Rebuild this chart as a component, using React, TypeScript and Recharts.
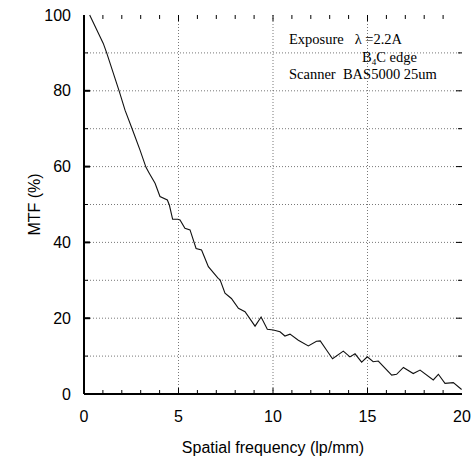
import { LineChart, Line, XAxis, YAxis, CartesianGrid, ReferenceLine, Label } from "recharts";

const freq = [
  0.3, 1.02, 1.2, 1.87, 2.17, 2.56, 2.96, 3.28, 3.46, 3.76, 4.02, 4.41, 4.52, 4.69, 4.96,
  5.08, 5.34, 5.61, 5.93, 6.22, 6.58, 7.1, 7.2, 7.46, 7.8, 8.17, 8.52, 9.05, 9.37, 9.7,
  10.02, 10.37, 10.63, 10.9, 11.34, 11.87, 12.3, 12.5, 12.83, 13.15, 13.72, 14.07, 14.34,
  14.69, 14.99, 15.3, 15.57, 16.28, 16.54, 16.9, 17.42, 17.78, 18.48, 18.75, 19.1, 19.54, 19.98,
];
const mtf = [
  100, 92.5, 90, 79.8, 74.9, 69.8, 64.4, 59.8, 58.2, 55.6, 52.1, 51.2, 49.8, 46.1, 46.1,
  45.9, 43.7, 43.3, 38.4, 38, 33.6, 30.5, 30.1, 26.6, 25.2, 22.6, 21.7, 17.9, 20.3, 17.1,
  16.9, 16.4, 15.3, 15.8, 14.2, 12.7, 13.9, 14, 11.6, 9.3, 11.3, 9.8, 10.6,
  8.4, 9.8, 8.5, 8.7, 5.0, 5.2, 7.0, 5.4, 6.3, 3.7, 5.2, 2.8, 3.0, 1.2,
];

const xLabels = [0, 5, 10, 15, 20];
const yLabels = [0, 20, 40, 60, 80, 100];
const xTicks = [1, 2, 3, 4, 5, 6, 7, 8, 9, 10, 11, 12, 13, 14, 15, 16, 17, 18, 19];
const yTicks = [10, 20, 30, 40, 50, 60, 70, 80, 90];
const xGrid = [5, 10, 15];
const yGrid = [10, 20, 30, 40, 50, 60, 70, 80, 90];

const data = freq.map((f, i) => ({ f, v: mtf[i] }));

const sans = "'Liberation Sans', Arial, sans-serif";
const serif = "'Liberation Serif', 'Times New Roman', serif";

export default function App() {
  return (
    <div style={{ position: "absolute", left: 0, top: 0, width: 472, height: 459, background: "#fff" }}>
      <LineChart width={472} height={459} data={data} margin={{ top: 15, right: 10, left: 0, bottom: 0 }}>
        <CartesianGrid
          stroke="#555"
          strokeDasharray="1 2"
          strokeWidth={0.8}
          horizontalValues={yGrid}
          verticalValues={xGrid}
        />
        <XAxis
          dataKey="f"
          type="number"
          domain={[0, 20]}
          ticks={xLabels}
          height={65}
          tickLine={false}
          tickSize={0}
          tickMargin={17}
          axisLine={{ stroke: "#000", strokeWidth: 2 }}
          tick={{ fill: "#000", fontSize: 16, fontFamily: sans }}
        >
          <Label
            value="Spatial frequency (lp/mm)"
            position="insideBottom"
            offset={6}
            style={{ fill: "#000", fontSize: 16, fontFamily: sans }}
          />
        </XAxis>
        <XAxis
          xAxisId="top"
          orientation="top"
          type="number"
          domain={[0, 20]}
          height={0}
          tick={false}
          tickLine={false}
          axisLine={{ stroke: "#000", strokeWidth: 1.5 }}
        />
        <YAxis
          type="number"
          domain={[0, 100]}
          ticks={yLabels}
          width={84}
          tickLine={false}
          tickSize={0}
          tickMargin={13}
          axisLine={{ stroke: "#000", strokeWidth: 2 }}
          tick={{ fill: "#000", fontSize: 16, fontFamily: sans }}
        >
          <Label
            value="MTF (%)"
            position="insideLeft"
            angle={-90}
            offset={34}
            style={{ fill: "#000", fontSize: 16, fontFamily: sans, textAnchor: "middle" }}
          />
        </YAxis>
        <YAxis
          yAxisId="right"
          orientation="right"
          type="number"
          domain={[0, 100]}
          width={0}
          tick={false}
          tickLine={false}
          axisLine={{ stroke: "#000", strokeWidth: 1.5 }}
        />
        {xTicks.map((t) => (
          <ReferenceLine
            key={"xb" + t}
            segment={[{ x: t, y: 0 }, { x: t, y: t % 5 === 0 ? 1.6 : 1.05 }]}
            stroke="#000"
            strokeWidth={1}
          />
        ))}
        {xTicks.map((t) => (
          <ReferenceLine
            key={"xt" + t}
            segment={[{ x: t, y: 100 }, { x: t, y: t % 5 === 0 ? 98.4 : 98.95 }]}
            stroke="#000"
            strokeWidth={1}
          />
        ))}
        {yTicks.map((t) => (
          <ReferenceLine
            key={"yl" + t}
            segment={[{ x: 0, y: t }, { x: t % 20 === 0 ? 0.32 : 0.21, y: t }]}
            stroke="#000"
            strokeWidth={t % 20 === 0 ? 2 : 1}
          />
        ))}
        {yTicks.map((t) => (
          <ReferenceLine
            key={"yr" + t}
            segment={[{ x: 20, y: t }, { x: t % 20 === 0 ? 19.68 : 19.79, y: t }]}
            stroke="#000"
            strokeWidth={1}
          />
        ))}
        <Line
          type="linear"
          dataKey="v"
          stroke="#111"
          strokeWidth={1.1}
          dot={false}
          isAnimationActive={false}
        />
      </LineChart>
      <div style={{ position: "absolute", left: 289, top: 31, fontFamily: serif, fontSize: 14.5, color: "#000", whiteSpace: "nowrap", lineHeight: "17.5px" }}>
        <div>Exposure&nbsp;&nbsp;&nbsp;λ =2.2A</div>
        <div style={{ paddingLeft: 73 }}>
          B<sub style={{ fontSize: 9, verticalAlign: "-3px", lineHeight: 0 }}>4</sub>C edge
        </div>
        <div>Scanner&nbsp;&nbsp;BAS5000 25um</div>
      </div>
    </div>
  );
}
